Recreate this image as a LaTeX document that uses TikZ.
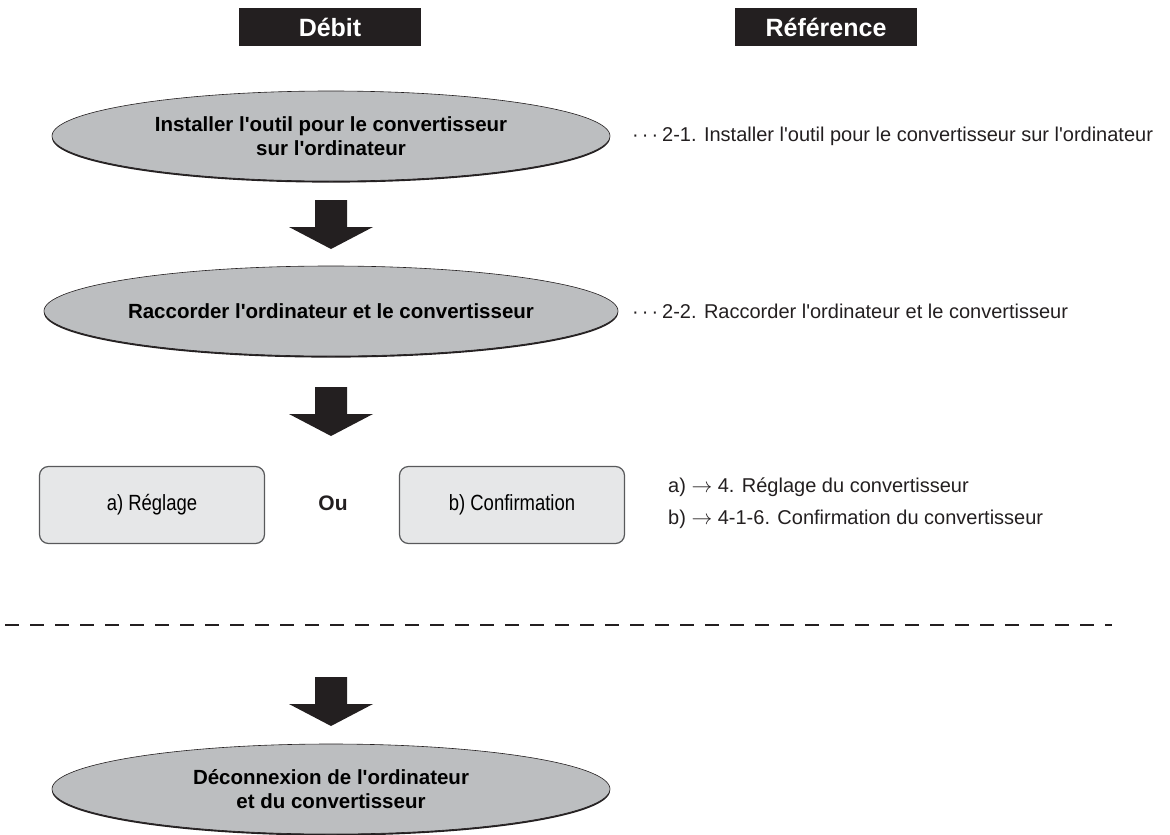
\documentclass[tikz,border=0pt]{standalone}
\usepackage{fontspec}
\setmainfont{Liberation Sans}[Ligatures=TeXOff]
\newfontfamily\etroite[FakeStretch=0.84,Ligatures=TeXOff]{Liberation Sans}
\usetikzlibrary{positioning,shapes.geometric,shadows}

\definecolor{encre}{HTML}{231F20}
\definecolor{grisetape}{HTML}{BCBEC0}
\definecolor{grischoix}{HTML}{E6E7E8}
\definecolor{bordchoix}{HTML}{58595B}

\begin{document}
\begin{tikzpicture}[x=1pt,y=-1pt,
	titre/.style={fill=encre,text=white,minimum width=182,minimum height=38,inner sep=0,
		font=\fontsize{25}{30}\selectfont\bfseries},
	etape/.style={ellipse,fill=grisetape,draw=encre,line width=0.6pt,
		minimum width=558,minimum height=90,inner sep=0,align=center,
		drop shadow={shadow xshift=0pt,shadow yshift=-1.6pt,opacity=1,fill=encre},
		font=\fontsize{20.5}{24}\selectfont\bfseries},
	choix/.style={rounded corners=9,fill=grischoix,draw=bordchoix,line width=1.2pt,
		minimum width=225,minimum height=77,inner sep=0,
		font=\fontsize{22}{26}\selectfont\etroite},
	renvoi/.style={anchor=west,inner sep=0,text=encre,font=\fontsize{20}{24}\selectfont},
	fleche/.style={fill=encre}]

	\useasboundingbox (0,0) rectangle (1170,835);

	% En-tetes
	\node[titre] (debit) at (330,27) {Débit};
	\node[titre] (reference) at (826,27) {Référence};

	% Etapes du debit
	\node[etape] (installer) at (331,136) {Installer l'outil pour le convertisseur\\sur l'ordinateur};
	\node[etape] (raccorder) at (331,311) {Raccorder l'ordinateur et le convertisseur};

	\node[choix] (reglage) at (152,505) {a) Réglage};
	\node[font=\fontsize{21}{25}\selectfont\bfseries,text=encre] (ou) at (333,503) {Ou};
	\node[choix] (confirmation) at (512,505) {b) Confirmation};

	\node[etape] (deconnexion) at (331,789) {Déconnexion de l'ordinateur\\et du convertisseur};

	% Renvois
	\node[renvoi] (renvoi-installer) at (632,136)
		{·\kern3pt·\kern3pt·\kern4pt 2-1. Installer l'outil pour le convertisseur sur l'ordinateur};
	\node[renvoi] (renvoi-raccorder) at (632,311)
		{·\kern3pt·\kern3pt·\kern4pt 2-2. Raccorder l'ordinateur et le convertisseur};
	\node[renvoi] (renvoi-a) at (668,487) {a) $\rightarrow$ 4. Réglage du convertisseur};
	\node[renvoi] (renvoi-b) at (668,519) {b) $\rightarrow$ 4-1-6. Confirmation du convertisseur};

	% Fleches pleines
	\foreach \y in {200,387,677} {
		\fill[fleche] (315,\y) -- (347,\y) -- (347,\y+27) -- (373,\y+27)
			-- (331,\y+49) -- (289,\y+27) -- (315,\y+27) -- cycle;
	}

	% Separation
	\draw[encre,line width=1.5pt,dash pattern=on 14pt off 11pt] (5,625) -- (1112,625);

\end{tikzpicture}
\end{document}
